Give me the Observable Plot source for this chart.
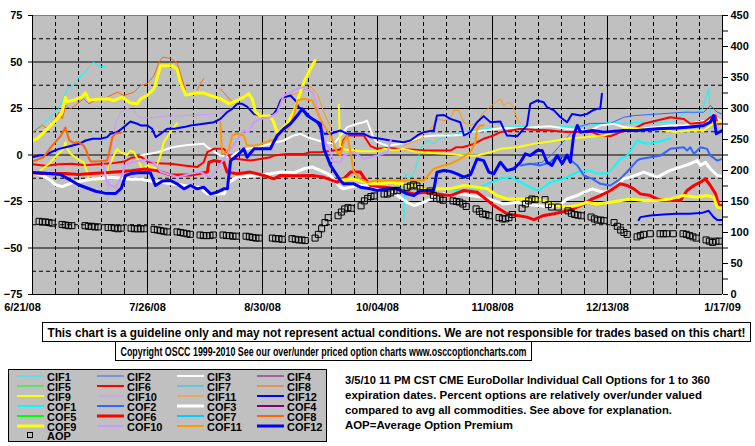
<!DOCTYPE html>
<html><head><meta charset="utf-8">
<script src="https://cdn.jsdelivr.net/npm/d3@7"></script>
<script src="https://cdn.jsdelivr.net/npm/@observablehq/plot@0.6"></script>
<style>
body{margin:0;background:#fff;}
#wrap{position:relative;width:755px;height:446px;overflow:hidden;background:#fff;}
#wrap > svg{position:absolute;left:0;top:0;}
</style></head><body><div id="wrap"></div>
<script>
// ---------- axes / ticks ----------
const startDate = "2008-06-21";
const endDate = "2009-01-17";
const xLabelDates = ["2008-06-21","2008-07-26","2008-08-30","2008-10-04","2008-11-08","2008-12-13","2009-01-17"];
const xLabels = ["6/21/08","7/26/08","8/30/08","10/04/08","11/08/08","12/13/08","1/17/09"];
const leftTicks = [-75,-50,-25,0,25,50,75];
const rightTicks = [0,50,100,150,200,250,300,350,400,450];
const rightMinorTicks = [25,75,125,175,225,275,325,375,425];
const solidGridY = [-50,-25,0,25,50];
const dashedGridY = [-62.5,-37.5,-12.5,12.5,37.5,62.5];

// ---------- series (day offset from 6/21/08, percent) ; null = gap ----------
const seriesNames = ["CIF1","CIF2","CIF3","CIF4","CIF5","CIF6","CIF7","CIF8","CIF9","CIF10","CIF11","CIF12",
                     "COF1","COF2","COF3","COF4","COF5","COF6","COF7","COF8","COF9","COF10","COF11","COF12"];
const seriesColors = ["#00FFFF","#3366FF","#FFFFFF","#800080","#00FF00","#FF0000","#00CCFF","#FF6600","#FFFF00","#CC99FF","#FF9900","#0000FF",
                      "#00FFFF","#3366FF","#FFFFFF","#800080","#00FF00","#FF0000","#00CCFF","#FF6600","#FFFF00","#CC99FF","#FF9900","#0000FF"];
const seriesWidths = [1,1,2,1,1,2,1,1,2,1,1,2, 2,2,3,2,2,3,2,2,3,2,2,3];

const CIF1 = [[0,12],[2.4,16],[4.6,19],[6.4,22],[7.9,25],[9.1,29],[10.7,36],[12.2,37],[14,41],[16.1,45],[17.6,48],[18.6,50],[19.8,48],[20.7,47.5],[22.2,47.5],null,
  [113,-36],[113.5,-10],[115,-12],[116.5,-8],[118.1,3.3],[120,7.8],[122.1,6],[124,8.7],[126.2,10.5],[130,12],[135,13.5],[140,14.5],[145,15],[150,15.5],[155,15],[160,15.5],[165,15],[170,16],[175.9,17.6],[180,17],[185,17.6],[190,17.6],[195,17.6],[199.2,23.9],[201,22],[204,25],[205.8,35.6],[206.3,21],[209,20]];
const CIF2 = [[150,-5],[155,-4],[158,0],[160.5,5],[163,10],[165.8,15],[169.8,17],[175.9,17],[180,20.3],[183,21.2],[190,22],[198.2,23],[204.3,23],[206.3,26.6],[208.4,23],[209.9,22]];
const CIF3 = [[32.9,-0.3],[38,1.5],[42.6,4.2],[47.1,5.4],[52.1,6],[53.2,4.2],[57.2,-0.3],[60.3,-1.2],[62.3,1.5],[65.3,3.3],[68.4,4.2],[72.4,6],[76.5,7.8],[79.5,10.5],[81.6,11.4],[83.6,9.6],[85.2,8.7],
  [88.7,6.9],[91.7,6],[95.8,15],[98.8,16.8],[100.8,17.6],[101.8,18.5],[102.9,13.2],[103.9,8.7],[104.9,6.9],[108,5],[112,6],[116,8],[119,10],[123.1,10.5],[127.2,10.5],
  [130.2,10.8],[133.3,12.3],[137.3,13.2],[142.4,14.4],[147.5,14.4],[153.6,15],[157.6,15.5],[162.7,14.1],[167.8,13.2],[170.4,13.6],[172.8,15.9],[176.9,16.8],[179.9,15],[185,14.1],[190.1,15],[194.1,15.9],[198.2,15.9],[202.3,17.6],[205.3,18.5],[207.3,21.2],[209.9,17.6]];
const CIF4 = [];
const CIF5 = [];
const CIF6 = [[0,-5],[4,-5.8],[8,-5],[12,-4.7],[16,-5.5],[20,-5],[24,-4.5],[28,-3.5],[30,-1.5],[33,-1],[35,-3.5],[38,-4.5],[42,-4.7],[46.1,-5.6],[50.1,-6.5],[52.1,-3.9],[53.2,1.5],[55.2,3.3],[58.2,3.3],[59.2,1.5],[60.3,-2.1],[62.3,-2.1],[66.3,-3],[69.4,-2.1],[72.4,-1.2],[73.4,-0.3],[77.5,0.6],[82.6,0.6],[84.6,1.5],[87.6,1.5],[93.7,3],[94.7,8],[95.8,10.5],[100.8,10.5],[102.9,4.8],[104.9,3.3],[108,3.8],[111,3.3],[115,3],[119.1,2.4],[123,2.4],[127.2,2.4],
  [129,4.2],[131,4.2],[134.3,6],[137.3,8.7],[140.4,10.5],[142.4,12.3],[145.5,13.2],[148.5,14.1],[152.6,13.6],[157.6,13.2],[162.7,12.3],[165.8,12.3],[170.4,12.3],[172.8,10.5],[175.9,10.1],[179,12.3],[183,14.1],[186,16.8],[190.1,18.5],[194.1,20.3],[198.2,19.4],[200.2,16.8],[204.3,17.6],[206.3,20.3],[207.9,21.2],[208.4,16.8],[209.9,16.8]];
const CIF7 = [];
const CIF8 = [[0,12.3],[3,15.9],[4.6,14.1],[6.1,17.6],[8.1,23],[9.1,19.4],[10.1,26.6],[11.6,24.8],[15.6,30.2],[17.2,27.5],[19.7,30.2],[22.7,31.1],[25.8,33.8],[27.8,32],[30.9,33.8],[32.9,37.4],[34.9,38.3],[37,42.7],[38.5,50],[39.6,52.6],[42,52],[43,50.8],[44,49.5],[45,44],[46,38],[46.6,35],null,
  [50.1,35],[51.1,38.5],[52.1,41],null,[57.2,35.6],[58.5,33],[60.3,29.3],[61.3,28.5]];
const CIF9 = [[2.4,-8.3],[5.5,-4],[7.5,0],[9.5,3.3],[10,6.9],[10.6,3.3],[11.6,0.6],[13.6,-2],[15.6,-4],[16.6,-9],[17.2,-12.8],[19.7,-13.2],[22.7,-12.8],[23.2,-6.5],[24.8,0],[25.8,3.3],[26.8,1.5],[28.8,0],[29.8,2.4],[30.9,1.5],[31.9,-2],[33.4,-7.4],[35,-5.5],[37.5,-7.4],[39,0],[40,7],[42.6,14],[44,17],null,
  [93.2,27],[93.6,5],[95,3],[100,2],[104.9,2],[107,3.3],[110,2.5],[113,3.3],[116,2],[119,1.5],[123,1],[127.2,0.6],[131.3,-0.3],[135.3,-0.3],[139.4,1.5],[142.4,3.3],[147.5,4.2],[152.6,6],[157.6,7.3],[162.7,8.7],[167.8,9.6],[170.4,10],[173.9,10.5],[177.9,13.2],[182,14.4],[186,14.4],[190.1,14.1],[195.2,12.3],[200.2,13.2],[204.3,13.2],[206.3,15.9],[208.4,17.6],[209.9,18]];
const CIF10 = [[22.7,-27],[23.3,-9],[24.3,7],[25.3,17.6],[26.8,23],[28.8,25],[30.9,24],[32,21],[33.5,20],[36,20],[41,21],[45,21],[50,21.5],[55,22],[58,23],[60.3,24.8]];
const CIF11 = [[74.5,28],[78.5,32],[81.6,34],[84.6,37],[86.6,33],[88.7,23],[90.7,15],null,
  [113,5.1],[118.1,8.7],[122.1,15.9],[123.1,19.4],[125.2,18.5],[127.2,19.4],[128.2,23.9],[129.7,23.9],[131.3,17.6],[133.3,15.9],[135.3,17.6],[137.3,23],[140.4,27.5],[142.4,30.2],[143.4,26.6],[145,28.4],[146,26.6],[147.5,19.4],[148.5,17]];
const CIF12 = [[0,-1.2],[2,-0.3],[4.1,0],[6.1,1.9],[8.1,3.3],[10.1,4.2],[12.2,5.1],[14.2,6],[16.2,7.8],[18.3,8.7],[20.7,8.7],[22.7,9.6],[23.7,11.4],[25.8,12.3],[27.8,15],[29.8,18],[31.9,16.8],[32.9,15.9],[34.9,15.9],[36.4,14.1],[37.5,9.6],[39,11.4],[41,14.1],[43.2,14.1],
  [46.1,15],[48.1,15.9],[52.1,16.8],[55.2,17.6],[57.2,19.4],[59.2,23],[60.8,24.8],[62.3,27.5],[63.8,27.5],[65.3,26],[67.4,22],[69.4,21.2],[71.4,20.3],[73.4,22],[74.5,24.8],[75.5,29.3],[76.5,31],[78.5,32],[80,29.3],[81,25.7],[82.6,24],[84.6,20.3],
  [86.6,17.6],[88.7,11.4],[90.7,11.4],[93.7,13.2],[95.8,11.4],[100.8,11.4],[102.9,9.6],[105.9,8.7],[108.9,7.8],[113,6.9],[115,7.8],[117.1,10.5],[119.1,12.3],[122.1,13.2],[123.1,21.2],[125.2,21.5],[127.2,19.4],
  [130.2,17.6],[131.3,10.5],[133.3,12.3],[135.3,17.6],[137.3,20.9],[139.4,17.6],[142.4,18],[143.4,14],[144.4,10.5],[147.5,10.1],[150.5,15.9],[151.5,27.5],[153.6,29.3],[155.6,28.4],[156.6,25.7],[158.7,24],[160.7,20.3],[162.7,17.6],[164.2,22.1],[166.8,21.2],[168.8,22.1],[170.4,23.9],[171.8,24.8],[172.8,24.8],[173.3,32.9],null,
  [184.5,-35],[185,-33.4],[188,-32.5],[192,-32],[196,-31.6],[200,-31.6],[204,-31],[205.8,-30],[207.3,-33.4],[208.4,-35],[209.9,-35]];

const COF1 = [[124,-18],[128,-18.5],[132.3,-19.1],[137.3,-16.4],[142.4,-12.8],[145.5,-11.9],[147.5,-13.7],[150.5,-16.4],[153.6,-19.1],[155.6,-17.3],[157.6,-14.6],[161.7,-12.8],[165.8,-9.2],[169.8,-8.3],[171.8,-10],[174.9,-10],[176.9,-6.5],[178.9,-2.1],[181,-0.3],[184,7.8],[187,6],[190,6.9],[194.1,9]];
const COF2 = [[148.5,-5.6],[151.5,-4.7],[154.6,-5.6],[157.6,-3.9],[159.7,-0.3],[162.7,-1.2],[165.8,-5.6],[167.8,-11],[170.4,-12.8],[172.8,-15.5],[175.9,-16.4],[178.9,-12.8],[181,-9],[184,-3],[185,-2.1],[191.1,-0.3],[194.1,3.3],[198.2,4.2],[199.2,2.4],[200.2,4.2],[201.3,0.6],[203.3,4.2],[205.3,3.3],[206.3,-0.3],[208.4,-3],[209.9,-2.1]];
const COF3 = [[0,-9.5],[3,-11],[5,-13],[7,-16],[9,-17],[12,-15],[15,-14],[18,-13],[21,-12.5],[24,-12],[27,-12.5],[30,-13],[33,-13],[36,-14],[39,-14.5],[42,-15.5],[45,-16],[48,-17],[51,-17.5],[53.2,-20.9],[58.3,-20.9],[59.9,-14.6],[62.3,-11.9],[67.4,-11.2],[72.4,-10.1],[75.5,-9.2],[79.5,-9.6],[82.6,-7.4],[85.2,-6.5],
  [87.6,-8.3],[90.7,-11],[93.7,-17.3],[94.7,-18.2],[98.8,-16.4],[101.8,-16.4],[104.9,-18.2],[107.9,-18.2],[111,-21.8],[114,-25.4],[116.1,-27.2],[119.1,-25.4],[122.1,-22.7],[125.2,-20.9],[127.2,-21.8],
  [130.2,-20.9],[133.3,-21.8],[137.3,-22.7],[140.4,-24.5],[143.4,-26.3],[147.5,-25.4],[150.5,-26.3],[153.6,-27.2],[157.6,-28],[160.7,-26.7],[162.7,-23.6],[165.8,-21.8],[167.8,-20],[170.4,-18.2],
  [171.8,-19.1],[173.9,-20],[175.9,-19.1],[177.9,-16.4],[179.9,-12.8],[182,-11.9],[186,-9.2],[190.1,-11.9],[194.1,-8.3],[197.2,-6.5],[200.2,-4.7],[202.3,-3],[203.3,-5.6],[204.8,-3.9],[206.3,-7.4],[208.4,-11],[209.9,-11.4]];
const COF4 = [];
const COF5 = [];
const COF6 = [[0,-9.5],[3,-10],[6,-10],[10,-10],[14,-10.5],[18,-10],[22,-9.5],[26,-9],[30,-8.5],[34,-7.5],[36,-8],[38,-8.5],[42,-10.7],[48.1,-10.7],[53.2,-9.2],[53.7,-3.9],[55.2,-3],[58.2,-3.9],[59.2,-9.2],[62.3,-10.1],[66.3,-9.2],[70.4,-11],[73.4,-12.8],[75.5,-11],[80.6,-11.2],[85.2,-11],[88.7,-12],[92.7,-14.6],[94.7,-12.8],[96.8,-9.2],[99.8,-9.2],[100.8,-11.9],[102.9,-16.4],[106.9,-17.3],[111,-18.2],[114,-20],[116.1,-20.9],[119.1,-20],[123.1,-20.9],[127.2,-21.8],
  [131.3,-19.1],[135.3,-20],[137.3,-22.7],[140.4,-27.2],[144.4,-31.6],[147.5,-32.5],[150.5,-33.4],[152.6,-34.7],[155.6,-32.5],[158.7,-31.6],[161.7,-30.4],[164.7,-28.9],[167.8,-26.3],[170.4,-23.6],
  [172.8,-21.8],[175.9,-19.1],[178.9,-15.5],[181,-16.4],[183,-18.2],[185,-20.9],[188,-21.8],[190.1,-23.6],[193.1,-24.5],[197.2,-24.5],[199.2,-19.1],[201.3,-16.4],[203.3,-14.6],[204.8,-12.8],[206.3,-16.4],[207.9,-20.9],[208.9,-27.2],[209.9,-27.2]];
const COF7 = [];
const COF8 = [[0,-3.5],[3.3,-1.3],[6,5],[8.5,10],[10,14.8],[11.2,8],[12.5,6.5],[14,7],[15.6,5],[16.5,2],[17.2,-2],[17.8,-3.5],[20.3,-3.3],[22.7,-3],[23.3,1],[24.3,9.6],[25.3,11.6],[27,12]];
const COF9 = [[0,7.8],[1.4,8.7],[3.5,12.3],[5.5,15.8],[7.5,19.4],[9,23],[10,31],[10.6,28.6],[12.6,29.5],[15.1,31.3],[16.1,33.4],[17.2,29.5],[19.7,30],[22.7,30.2],[24.8,29.3],[27.3,31.1],[29.8,28],[31.9,27.5],[32.9,30.2],[34.9,32],[37,35.6],[39,48],[42.6,48],[44,46],[45,39],[46.6,32.3],[50,33.4],[52,33.4],[54.2,32],[57.2,30.2],[59.8,27.5],[62.3,29.3],[64.3,31.1],[65.8,33],[66.9,30],[67.9,23],[69.4,21],[72.4,21],[73.4,17.6],[74.5,12.3],[75.5,13],[77.5,17],[79.5,23],[82.6,39.2],[84.6,46.3],[86,50.8],null,
  [93.7,-13.7],[96.8,-12.8],[99.8,-13.7],[102.9,-15.5],[105.9,-15.5],[108.9,-14.6],[112,-15.5],[115,-16.4],[118.1,-18.2],[121.1,-19.1],[123.1,-18.2],[127.2,-18.2],
  [131.3,-16.4],[135.3,-17.3],[138.4,-18.2],[141.4,-21.8],[144.4,-23.6],[147.5,-23.6],[151.5,-23.6],[155.6,-24.5],[159.7,-27.2],[162.7,-28],[165.8,-27.2],[168.8,-25.4],
  [171.8,-26.3],[175.9,-25.4],[182,-23.6],[186,-24.5],[190.1,-24.5],[194.1,-23.6],[198.2,-21.8],[202.3,-22.7],[205.3,-21.8],[207.3,-22.7],[208.4,-28],[209.9,-28.5]];
const COF10 = [[21.6,-5],[22.5,-14],[24,-16.5],[25.3,-17.5],[27,-12],[28.3,-5],[30,-4],[33,-3],[35,-2.5],[37,-4],[39,-9],[42.6,-11],[44.1,-11.9],[48.1,-10.1],[51.1,-9.2],[54.2,-11.9],[56.2,-7.4],[60.3,3.3],[64.3,13.2],[65.8,12.3],[67.4,17.6],[69.4,19.4],[72.4,20.3],[74.5,23],[76.5,32],[80.6,35.6],[82.6,36.5],[85.2,33.8],
  [86.6,26.6],[88.7,8.7],[90.7,1.5],[91.7,-3.9],[93.7,-3.9],[94.7,-0.3],[97.8,1.5],[100.8,-2.1],[104.9,-0.3],[108,1.5],[109,7.8]];
const COF11 = [[57.2,17.6],[57.7,1],[58.2,0.6],[59.8,3.3],[60.8,10.5],[62.3,11.4],[64.3,10.5],[65.3,5.1],[68.4,5.1],[72.4,7.8],[74.5,8.7],[75.5,13],[76.5,14.1],[78,14.1],[79.5,21],[80.6,29.3],[82.6,30.2],[85.2,29.3],
  [86.6,23],[88.7,15.9],[90.7,10.5],[92.7,1.5],[93.7,-0.3],[94.7,6.9],[95.8,10.5],[96.8,1.5],[97.8,-9.2],[99.8,-12.8],[101.8,-14.6],[104.9,-13.7],[108,-13.7],[111,-13.7],[115,-13.7],[119.1,-13.7],[122.1,-7.4],[125.2,-5.6],[127.2,-4.7],
  [130.2,-2.1],[133.3,1.5],[134.8,6.9],[135.3,14.1],[136.3,15.9],[137.3,15.9]];
const COF12 = [[0,-9.4],[4,-9.8],[8.5,-10.5],[11,-13],[14,-16],[17,-18],[19.2,-19.5],[22,-20.5],[25.3,-20.7],[27,-18],[28.3,-11],[30,-10],[32.9,-9.4],[35.9,-9.6],[37.4,-16.4],[39.6,-14],[42,-13.7],
  [44,-15.5],[46.1,-18.2],[48.1,-16.4],[50.1,-18.2],[52.1,-17.3],[54.2,-20.9],[56.2,-20],[58.2,-18.2],[59.3,-18.2],[60.3,-3],[62.3,-0.3],[64.3,3.3],[65.3,-1.2],[67.4,3.3],[72.4,3.3],[73.4,6.9],[74.5,10.5],[76.5,14.1],[78.5,16.8],[80.6,21.2],[82.1,24.8],[83.6,21.2],[85.2,19.4],
  [87.6,16.8],[88.7,3.3],[90.7,-5.6],[93.7,-13.7],[94.7,-15.5],[97.8,-15.5],[99.8,-17.3],[102.9,-18.2],[104.9,-19.1],[107.9,-18.2],[111,-18.2],[114,-20.9],[116.1,-21.8],[118.1,-19.1],[122.1,-19.1],[123.1,-9.2],[125.2,-8.3],[127.2,-8.8],
  [129.2,-10.1],[131.3,-11.9],[133.3,-10.6],[135.3,-2.1],[137.3,-3],[138.9,-9.2],[140.4,-10.1],[142.4,-3.9],[144.4,-8.3],[146.5,-7.4],[148.5,-3.9],[150,0.6],[151.5,-0.3],[153.6,2.4],[155.1,2.4],[156.6,-3.9],[158.1,-5.6],[159.7,-0.3],[161.2,-4.7],[162.7,0],[163.7,-3.9],[164.7,10.5],[165.8,15.9],[166.8,12.3],[168.8,12.8],[170.4,13.2],
  [173.9,12.3],[179.9,13.2],[184,13.2],[190.1,14.1],[196.2,14.5],[200.2,15],[204.3,15.9],[206.3,17.6],[207.3,21.2],[208.1,11.4],[209.9,13.2]];

// ---------- AOP (right axis), one value per trading day from 6/23/08 ----------
const aopFirstDay = "2008-06-23";
const holidays = ["2008-07-04","2008-09-01","2008-11-27","2008-12-25","2009-01-01"];
const aopValues = [
  118,117,117,116,115, 113,112,111,111, 111,110,110,109,109, 108,108,107,106,107,
  107,106,106,106,106, 105,104,103,102,101, 101,100,99,98,97, 96,95,95,95,96,
  96,95,95,94,94, 94,93,92,91,91, 91,90,90,89, 90,89,88,88,87,
  91,97,106,116,124, 127,133,138,140,139, 143,151,155,158,159, 162,162,164,167,168,
  173,175,177,175,171, 167,160,155,154,152, 151,150,149,146,142, 138,134,130,129,127,
  124,122,122,124,129, 139,146,151,154,153, 153,145,141,141, 135,131,129,128,127,
  125,122,120,120,119, 116,110,104,100,97, 93,95,97,98, 98,98,98,98,
  98,97,95,93,91, 88,86,84,86,86];

// ---------- text ----------
const disclaimer = "This chart is a guideline only and may not represent actual conditions. We are not responsible for trades based on this chart!";
const copyright = "Copyright OSCC 1999-2010 See our over/under priced option charts www.osccoptioncharts.com";
const notes = ["3/5/10 11 PM CST CME EuroDollar Individual Call Options for 1 to 360",
               "expiration dates. Percent options are relatively over/under valued",
               "compared to avg all commodities. See above for explanation.",
               "AOP=Average Option Premium"];

// ---------- build ----------
const seriesData = {CIF1,CIF2,CIF3,CIF4,CIF5,CIF6,CIF7,CIF8,CIF9,CIF10,CIF11,CIF12,COF1,COF2,COF3,COF4,COF5,COF6,COF7,COF8,COF9,COF10,COF11,COF12};
const parse = d3.utcParse("%Y-%m-%d");
const fmt = d3.utcFormat("%Y-%m-%d");
const t0 = parse(startDate), t1 = parse(endDate);
const toDate = d => new Date(t0.getTime() + d * 864e5);
const toLeft = a => (a - 225) / 3;   // right axis (0..450) onto left axis (-75..75)

function rows(name) {
  return seriesData[name].map(p => p ? {name, date: toDate(p[0]), v: p[1]} : {name, date: null, v: NaN});
}
const aopDates = [];
{
  let d = parse(aopFirstDay);
  while (aopDates.length < aopValues.length) {
    const wd = d.getUTCDay();
    if (wd !== 0 && wd !== 6 && !holidays.includes(fmt(d))) aopDates.push(d);
    d = d3.utcDay.offset(d, 1);
  }
}
const aop = aopValues.map((a, i) => ({date: aopDates[i], v: toLeft(a)}));

const labelDates = xLabelDates.map(parse);
const weekDates = d3.utcSaturday.range(t0, d3.utcDay.offset(t1, 1));
const solidX = labelDates.slice(1, -1);
const dashedX = weekDates.filter(d => !labelDates.some(l => +l === +d));
const labelOf = d => xLabels[labelDates.findIndex(l => +l === +d)];

const lineMarks = seriesNames.map((n, i) =>
  Plot.line(rows(n), {x: "date", y: "v", stroke: seriesColors[i], strokeWidth: seriesWidths[i], clip: true}));

const chart = Plot.plot({
  width: 755, height: 320,
  marginLeft: 32, marginRight: 33, marginTop: 15, marginBottom: 26,
  style: {fontFamily: "'Liberation Sans', Arial, sans-serif", fontSize: "11px", fontWeight: "bold", background: "white", color: "black", overflow: "visible"},
  x: {type: "utc", domain: [t0, t1], axis: null, label: null},
  y: {domain: [-75, 75], axis: null, label: null},
  marks: [
    Plot.frame({fill: "#C0C0C0", stroke: "none"}),
    Plot.ruleY(dashedGridY, {stroke: "#000", strokeDasharray: "4,3"}),
    Plot.ruleX(dashedX, {stroke: "#000", strokeDasharray: "4,3"}),
    Plot.ruleY(solidGridY, {stroke: "#000"}),
    Plot.ruleX(solidX, {stroke: "#000"}),
    ...lineMarks,
    Plot.dot(aop, {x: "date", y: "v", symbol: "square", r: 3.4, stroke: "#000", fill: "none", strokeWidth: 1}),
    Plot.ruleY([75], {stroke: "#808080"}),
    Plot.ruleY([-75], {stroke: "#000"}),
    Plot.ruleX([t0, t1], {stroke: "#000"}),
    Plot.axisY(leftTicks, {anchor: "left", tickSize: 4, tickPadding: 6, label: null}),
    Plot.axisY(rightMinorTicks.map(toLeft), {anchor: "right", tickSize: 5, text: null, label: null}),
    Plot.axisY(rightTicks.map(toLeft), {anchor: "right", tickSize: 5, tickPadding: 3, label: null, tickFormat: v => String(Math.round(v * 3 + 225))}),
    Plot.axisX(weekDates, {anchor: "bottom", tickSize: -4, text: null, label: null}),
    Plot.axisX(labelDates.slice(0, 1), {anchor: "bottom", tickSize: 0, tickPadding: 9, dx: -10, label: null, tickFormat: labelOf}),
    Plot.axisX(labelDates.slice(1), {anchor: "bottom", tickSize: 0, tickPadding: 9, label: null, tickFormat: labelOf})
  ]
});
const wrap = document.getElementById("wrap");
wrap.appendChild(chart);

// ---------- bottom: notes, legend ----------
const ov = d3.select(wrap).append("svg").attr("width", 755).attr("height", 446)
  .style("font-family", "'Liberation Sans', Arial, sans-serif");

function boxText(x, y, w, h, txt, tl) {
  ov.append("rect").attr("x", x + 0.5).attr("y", y + 0.5).attr("width", w).attr("height", h)
    .attr("fill", "#fff").attr("stroke", "#000");
  ov.append("text").attr("x", x + w / 2 + 0.5).attr("y", y + h - 4.5).attr("text-anchor", "middle")
    .attr("font-size", 12.5).attr("font-weight", "bold")
    .attr("textLength", tl).attr("lengthAdjust", "spacingAndGlyphs").text(txt);
}
boxText(42, 322, 708, 19, disclaimer, 698);
boxText(115, 341, 416, 19, copyright, 406);

// legend
ov.append("rect").attr("x", 8.5).attr("y", 369.5).attr("width", 318).attr("height", 72)
  .attr("fill", "#C0C0C0").attr("stroke", "#000");
seriesNames.forEach((n, i) => {
  const col = i % 4, row = Math.floor(i / 4);
  const cx = 17 + col * 80, cy = 376 + row * 10;
  ov.append("line").attr("x1", cx).attr("x2", cx + 27).attr("y1", cy).attr("y2", cy)
    .attr("stroke", seriesColors[i]).attr("stroke-width", seriesWidths[i]);
  ov.append("text").attr("x", cx + 30).attr("y", cy + 4.5).attr("font-size", 11).attr("font-weight", "bold").text(n);
});
ov.append("rect").attr("x", 27.5).attr("y", 432.5).attr("width", 5).attr("height", 5)
  .attr("fill", "none").attr("stroke", "#000");
ov.append("text").attr("x", 47).attr("y", 440).attr("font-size", 11).attr("font-weight", "bold").text("AOP");

// notes
const noteLen = [365, 357, 327, 168];
notes.forEach((t, i) => {
  ov.append("text").attr("x", 345).attr("y", 384 + i * 15).attr("font-size", 11).attr("font-weight", "bold")
    .attr("textLength", noteLen[i]).attr("lengthAdjust", "spacingAndGlyphs").text(t);
});
</script></body></html>
